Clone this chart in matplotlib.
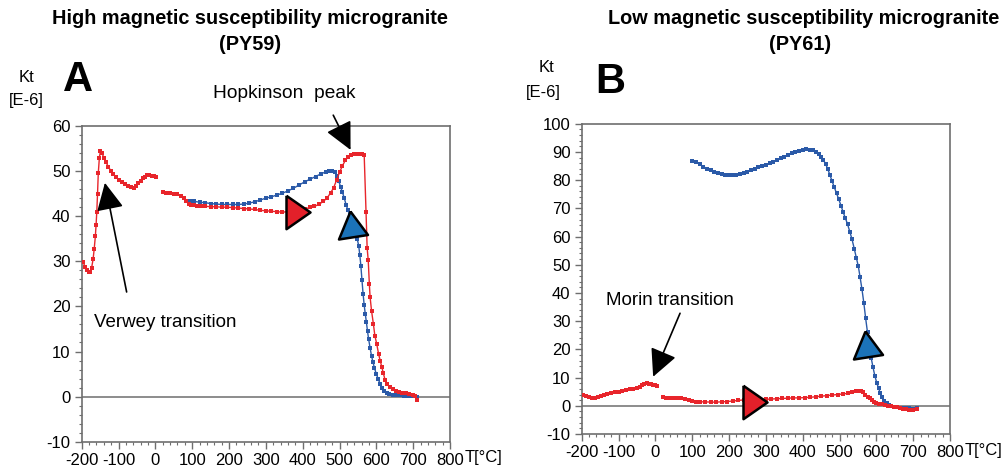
import matplotlib
matplotlib.use('Agg')
from matplotlib import pyplot as plt
from matplotlib.ticker import MultipleLocator

plt.rcParams['font.family'] = ['Liberation Sans', 'DejaVu Sans']
plt.rcParams['axes.unicode_minus'] = False

W, H = 1006, 475

# ---- Panel A (PY59) ----
a_red_low_t = [-196, -191, -186, -181, -177, -173, -169, -166, -163, -161, -159, -157, -155, -152, -149,
               -145, -140, -134, -128, -121, -114, -106, -98, -90, -82, -74, -66, -58, -52, -46, -40,
               -34, -28, -22, -16, -10, -4, 2]
a_red_low_k = [29.8, 28.8, 28.0, 27.6, 27.7, 28.6, 30.5, 32.8, 35.5, 38.0, 41.0, 45.0, 49.5, 53.0, 54.5,
               54.0, 53.0, 52.0, 51.0, 50.1, 49.3, 48.6, 48.0, 47.5, 47.1, 46.7, 46.4, 46.3, 46.6, 47.3, 47.9,
               48.4, 48.8, 49.1, 49.2, 49.0, 48.9, 48.8]

a_red_t = [20, 30, 40, 50, 60, 70, 78, 84, 90, 96, 104, 114, 124, 136, 150, 165, 180, 195, 210, 225,
           240, 255, 270, 285, 300, 315, 330, 345, 360, 375, 390, 405, 420, 432, 444, 456, 466, 476, 484,
           492, 500, 508, 516, 524, 532, 540, 548, 556, 562, 567, 572, 575, 578, 581, 583, 587, 592, 596,
           601, 606, 611, 615, 619, 624, 630, 637, 646, 654, 662, 670, 680, 690, 700, 706, 710]
a_red_k = [45.3, 45.2, 45.2, 45.0, 44.9, 44.5, 44.0, 43.3, 42.8, 42.5, 42.4, 42.3, 42.3, 42.2, 42.1, 42.1,
           42.0, 42.0, 41.9, 41.8, 41.7, 41.6, 41.5, 41.3, 41.2, 41.1, 41.0, 40.9, 41.0, 41.0, 41.2, 41.5,
           42.0, 42.2, 42.6, 43.3, 44.0, 45.2, 46.3, 48.0, 49.7, 51.2, 52.4, 53.2, 53.6, 53.8, 53.9, 53.9,
           53.8, 53.6, 41.0, 33.0, 30.2, 25.0, 22.1, 19.0, 16.1, 13.5, 11.7, 9.5, 7.8, 6.5, 5.2, 3.6, 2.7,
           2.1, 1.6, 1.2, 1.1, 0.9, 0.7, 0.6, 0.4, 0.2, -0.8]

a_blue_t = [94, 105, 120, 135, 150, 165, 180, 195, 210, 225, 240, 255, 270, 285, 300, 315, 330, 345, 360,
            375, 390, 405, 420, 435, 450, 462, 472, 480, 487, 493, 498, 503, 508, 513, 518, 523, 528, 533,
            538, 543, 548, 552, 555, 558, 561, 564, 567, 570, 573, 576, 579, 583, 587, 591, 595, 600, 605,
            610, 616, 622, 628, 635, 645, 655, 665, 675, 685, 695, 705, 710]
a_blue_k = [43.4, 43.3, 43.1, 43.0, 42.8, 42.7, 42.6, 42.6, 42.6, 42.6, 42.7, 42.9, 43.2, 43.6, 44.0, 44.3,
            44.7, 45.1, 45.6, 46.2, 46.9, 47.6, 48.2, 48.8, 49.4, 49.8, 50.1, 50.1, 49.8, 49.0, 47.8, 46.5,
            45.3, 44.0, 42.5, 41.3, 40.2, 39.3, 38.2, 36.8, 35.0, 33.5, 31.5, 29.0, 25.8, 22.8, 20.3, 18.3,
            16.5, 14.5, 12.8, 10.8, 9.0, 7.6, 6.3, 5.0, 3.9, 2.9, 2.0, 1.3, 0.9, 0.6, 0.4, 0.3, 0.3, 0.2,
            0.2, 0.1, 0.1, 0.0]

# ---- Panel B (PY61) ----
b_red_low_t = [-196, -188, -180, -172, -164, -156, -148, -140, -130, -120, -110, -100, -90, -80, -70, -60,
               -50, -42, -36, -30, -24, -18, -12, -6, 0, 4]
b_red_low_k = [4.0, 3.6, 3.2, 2.8, 2.7, 3.0, 3.5, 3.9, 4.2, 4.5, 4.8, 5.0, 5.3, 5.6, 5.9, 6.1, 6.3, 6.5,
               7.2, 7.9, 8.0, 7.9, 7.6, 7.4, 7.2, 7.0]

b_red_t = [22, 30, 40, 50, 60, 70, 80, 90, 100, 110, 120, 135, 150, 165, 180, 195, 210, 225, 240, 255,
           270, 285, 300, 315, 330, 345, 360, 375, 390, 405, 420, 435, 450, 465, 480, 495, 510, 522, 534,
           545, 552, 558, 564, 570, 576, 582, 588, 594, 600, 608, 616, 624, 632, 640, 648, 656, 664, 672,
           680, 690, 700, 710]
b_red_k = [3.0, 2.8, 2.7, 2.6, 2.6, 2.6, 2.5, 2.2, 1.8, 1.5, 1.4, 1.4, 1.3, 1.3, 1.4, 1.5, 1.7, 1.9, 2.1,
           2.2, 2.2, 2.3, 2.3, 2.4, 2.5, 2.6, 2.7, 2.8, 2.8, 2.9, 3.0, 3.2, 3.4, 3.6, 3.8, 4.0, 4.2, 4.4,
           4.8, 5.3, 5.4, 5.2, 4.8, 4.0, 3.2, 2.6, 2.0, 1.5, 1.1, 0.8, 0.5, 0.2, 0.0, -0.2, -0.4, -0.6,
           -0.8, -1.1, -1.3, -1.4, -1.5, -1.2]

b_blue_t = [100, 110, 120, 130, 140, 150, 160, 170, 180, 190, 200, 210, 220, 230, 240, 250, 260, 270, 280,
            290, 300, 310, 320, 330, 340, 350, 360, 370, 380, 390, 400, 410, 420, 428, 436, 444, 450, 456,
            462, 468, 474, 480, 486, 492, 498, 504, 510, 516, 522, 528, 534, 540, 546, 551, 556, 561, 566,
            571, 576, 581, 586, 591, 596, 601, 606, 611, 616, 622, 628, 634, 640, 648, 656, 664, 672, 680,
            690, 700, 710]
b_blue_k = [86.9, 86.4, 85.6, 84.8, 84.1, 83.5, 83.0, 82.6, 82.2, 81.9, 81.7, 81.7, 81.9, 82.2, 82.6, 83.0,
            83.5, 84.0, 84.6, 85.0, 85.4, 85.9, 86.5, 87.1, 87.7, 88.3, 88.9, 89.5, 90.0, 90.4, 90.7, 90.9,
            90.8, 90.5, 90.0, 89.3, 88.3, 87.2, 85.8, 84.0, 81.8, 79.6, 77.4, 75.3, 73.2, 71.0, 68.6, 66.5,
            64.3, 61.7, 59.0, 55.7, 52.3, 49.5, 45.5, 41.3, 36.5, 31.0, 26.0, 21.0, 17.0, 13.6, 10.6, 8.2,
            6.2, 4.5, 3.0, 1.8, 0.9, 0.3, -0.1, -0.4, -0.6, -0.7, -0.8, -0.9, -0.9, -1.0, -0.9]

RED = '#e8252b'
BLUE = '#2b5aa8'
RED_FILL = '#e3202a'
BLUE_FILL = '#1b73b9'
GREY = '#6e6e6e'

# direction triangles: (T, K) of each marker
a_heat_tri = (376, 41.0)
a_cool_tri = (533, 37.3)
b_heat_tri = (259, 1.4)
b_cool_tri = (575, 20.5)

heat_marker = [(-8, 16.7), (16, 0), (-8, -16.7), (-8, 16.7)]
cool_marker = [(-2, 17), (-13.5, -11), (15.5, -6.5), (-2, 17)]


def fig_px(x, y):
    return x / W, 1 - y / H


def style_axes(ax, ymin, ymax):
    ax.set_xlim(-200, 800)
    ax.set_ylim(ymin, ymax)
    ax.xaxis.set_major_locator(MultipleLocator(100))
    ax.xaxis.set_minor_locator(MultipleLocator(20))
    ax.yaxis.set_major_locator(MultipleLocator(10))
    ax.yaxis.set_minor_locator(MultipleLocator(2))
    for s in ax.spines.values():
        s.set_color(GREY)
        s.set_linewidth(1.2)
    ax.tick_params(which='both', direction='out', color=GREY, labelsize=12, top=False, right=False)
    ax.tick_params(which='major', length=5, width=1, pad=3)
    ax.tick_params(which='minor', length=2.5, width=0.8)
    ax.axhline(0, color=GREY, lw=1.1, zorder=1)
    ax.annotate('T[°C]', xy=(1, 0), xycoords='axes fraction', xytext=(15, -16),
                textcoords='offset pixels', ha='left', va='center', fontsize=12)


def curve(ax, t, k, color):
    ax.plot(t, k, '-', color=color, lw=1.0, marker='s', ms=2.8, mew=0, zorder=3)


def tri(ax, pos, verts, fill):
    m = max(abs(v) for p in verts for v in p)
    ax.plot([pos[0]], [pos[1]], marker=verts, ms=2 * m * 0.72, color=fill,
            markeredgecolor='black', mew=1.8, linestyle='none', zorder=5)


def arrow(ax, tail, tip):
    ax.annotate('', xy=tip, xytext=tail, annotation_clip=False,
                arrowprops=dict(arrowstyle='-|>,head_length=0.85,head_width=0.42', mutation_scale=20,
                                color='black', lw=1.2, shrinkA=0, shrinkB=0))


fig = plt.figure(figsize=(W / 100, H / 100), dpi=100)

axA = fig.add_axes([81.7 / W, 1 - 441.7 / H, (450 - 81.7) / W, (441.7 - 126) / H])
style_axes(axA, -10, 60)
curve(axA, a_red_low_t, a_red_low_k, RED)
curve(axA, a_blue_t, a_blue_k, BLUE)
curve(axA, a_red_t, a_red_k, RED)
tri(axA, a_heat_tri, heat_marker, RED_FILL)
tri(axA, a_cool_tri, cool_marker, BLUE_FILL)
arrow(axA, (483, 62.4), (530, 54.7))
arrow(axA, (-78, 23.2), (-137, 47.4))
axA.text(350, 67.3, 'Hopkinson  peak', ha='center', va='center', fontsize=13.8, clip_on=False)
axA.text(26, 16.5, 'Verwey transition', ha='center', va='center', fontsize=13.5)

axB = fig.add_axes([581.7 / W, 1 - 434 / H, (950 - 581.7) / W, (434 - 123.7) / H])
style_axes(axB, -10, 100)
curve(axB, b_red_low_t, b_red_low_k, RED)
curve(axB, b_blue_t, b_blue_k, BLUE)
curve(axB, b_red_t, b_red_k, RED)
tri(axB, b_heat_tri, heat_marker, RED_FILL)
tri(axB, b_cool_tri, cool_marker, BLUE_FILL)
arrow(axB, (67, 32.8), (-6, 10.3))
axB.text(40, 37.5, 'Morin transition', ha='center', va='center', fontsize=13.5)

# titles and labels
fig.text(*fig_px(250, 18), 'High magnetic susceptibility microgranite', ha='center', va='center',
         fontsize=14.3, fontweight='bold')
fig.text(*fig_px(250, 45), '(PY59)', ha='center', va='center', fontsize=14.3, fontweight='bold')
fig.text(*fig_px(804, 18), 'Low magnetic susceptibility microgranite', ha='center', va='center',
         fontsize=14.3, fontweight='bold')
fig.text(*fig_px(800, 45), '(PY61)', ha='center', va='center', fontsize=14.3, fontweight='bold')

fig.text(*fig_px(27, 78), 'Kt', ha='center', va='center', fontsize=12)
fig.text(*fig_px(26, 100), '[E-6]', ha='center', va='center', fontsize=12)
fig.text(*fig_px(546, 68), 'Kt', ha='center', va='center', fontsize=12)
fig.text(*fig_px(543, 92), '[E-6]', ha='center', va='center', fontsize=12)

fig.text(*fig_px(78, 80), 'A', ha='center', va='center', fontsize=30, fontweight='bold')
fig.text(*fig_px(610, 82), 'B', ha='center', va='center', fontsize=30, fontweight='bold')

fig.savefig('out.png', dpi=100)
